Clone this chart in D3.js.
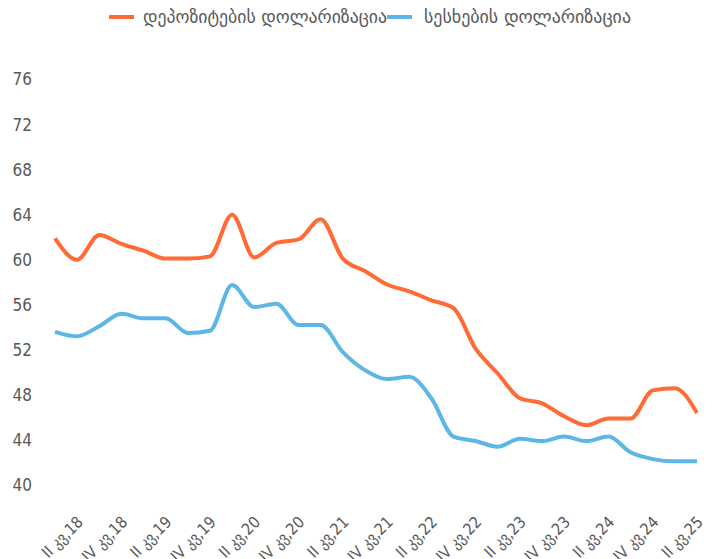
<!DOCTYPE html>
<html>
<head>
<meta charset="utf-8">
<script src="https://cdn.jsdelivr.net/npm/d3@7"></script>
<style>
  html, body { margin: 0; padding: 0; background: #fff; }
  svg { display: block; }
  text { font-family: "Liberation Sans Narrow", "DejaVu Sans Condensed", "DejaVu Sans", sans-serif; fill: #595959; }
</style>
</head>
<body>
<svg id="chart" width="716" height="559"></svg>
<script>
const categories = [
  "I კვ,18","II კვ,18","III კვ,18","IV კვ,18",
  "I კვ,19","II კვ,19","III კვ,19","IV კვ,19",
  "I კვ,20","II კვ,20","III კვ,20","IV კვ,20",
  "I კვ,21","II კვ,21","III კვ,21","IV კვ,21",
  "I კვ,22","II კვ,22","III კვ,22","IV კვ,22",
  "I კვ,23","II კვ,23","III კვ,23","IV კვ,23",
  "I კვ,24","II კვ,24","III კვ,24","IV კვ,24",
  "I კვ,25","II კვ,25"
];
const depositDollarization = [
  61.9, 60.0, 62.2, 61.4, 60.8, 60.1, 60.1, 60.3, 64.0, 60.2,
  61.5, 61.8, 63.6, 60.1, 59.0, 57.8, 57.2, 56.4, 55.7, 52.1,
  49.9, 47.7, 47.25, 46.1, 45.3, 45.9, 45.9, 48.4, 48.6, 46.4
];
const loanDollarization = [
  53.6, 53.2, 54.1, 55.2, 54.8, 54.8, 53.5, 53.7, 57.75, 55.8,
  56.1, 54.2, 54.2, 51.8, 50.2, 49.4, 49.6, 47.7, 44.3, 43.9,
  43.4, 44.1, 43.9, 44.3, 43.9, 44.3, 42.9, 42.3, 42.1, 42.1
];
const yTicks = [40, 44, 48, 52, 56, 60, 64, 68, 72, 76];
const seriesNames = ["დეპოზიტების დოლარიზაცია", "სესხების დოლარიზაცია"];
const seriesColors = ["#FF6A35", "#5DB7E6"];

const svg = d3.select("#chart");

const x = d3.scalePoint().domain(categories).range([55, 697]);
const y = d3.scaleLinear().domain([40, 76]).range([485, 79.5]);

// Y axis labels
const yAxis = d3.axisLeft(y).tickValues(yTicks).tickSize(0).tickPadding(0);
const gy = svg.append("g").attr("transform", "translate(32,0)").call(yAxis);
gy.select(".domain").remove();
gy.selectAll("text").attr("font-size", 17).style("fill", "#595959")
  .attr("font-family", null);

// X axis labels (every other category)
const xAxis = d3.axisBottom(x).tickValues(categories.filter((d, i) => i % 2 === 1)).tickSize(0).tickPadding(0);
const gx = svg.append("g").attr("transform", "translate(0,519)").call(xAxis);
gx.select(".domain").remove();
gx.selectAll("text")
  .attr("font-size", 16)
  .attr("font-family", null)
  .style("fill", "#595959")
  .attr("text-anchor", "end")
  .attr("dy", "0.35em")
  .attr("y", 0)
  .attr("transform", "translate(2.5,0) rotate(-45)");

// Lines
const line = d3.line()
  .x((d, i) => x(categories[i]))
  .y(d => y(d))
  .curve(d3.curveMonotoneX);

[loanDollarization, depositDollarization].forEach((s, k) => {
  const idx = k === 0 ? 1 : 0;
  svg.append("path")
    .datum(s)
    .attr("d", line)
    .attr("fill", "none")
    .attr("stroke", seriesColors[idx])
    .attr("stroke-width", 4)
    .attr("stroke-linejoin", "round")
    .attr("stroke-linecap", "butt");
});

// Legend
const legend = [
  { sx: 109, tx: 143, w: 244 },
  { sx: 387, tx: 424, w: 207 }
];
legend.forEach((l, i) => {
  svg.append("line")
    .attr("x1", l.sx).attr("x2", l.sx + 25)
    .attr("y1", 17).attr("y2", 17)
    .attr("stroke", seriesColors[i]).attr("stroke-width", 4);
  svg.append("text")
    .attr("x", l.tx).attr("y", 17)
    .attr("dy", "0.35em")
    .attr("font-size", 18)
    .attr("textLength", l.w)
    .attr("lengthAdjust", "spacingAndGlyphs")
    .text(seriesNames[i]);
});
</script>
</body>
</html>
